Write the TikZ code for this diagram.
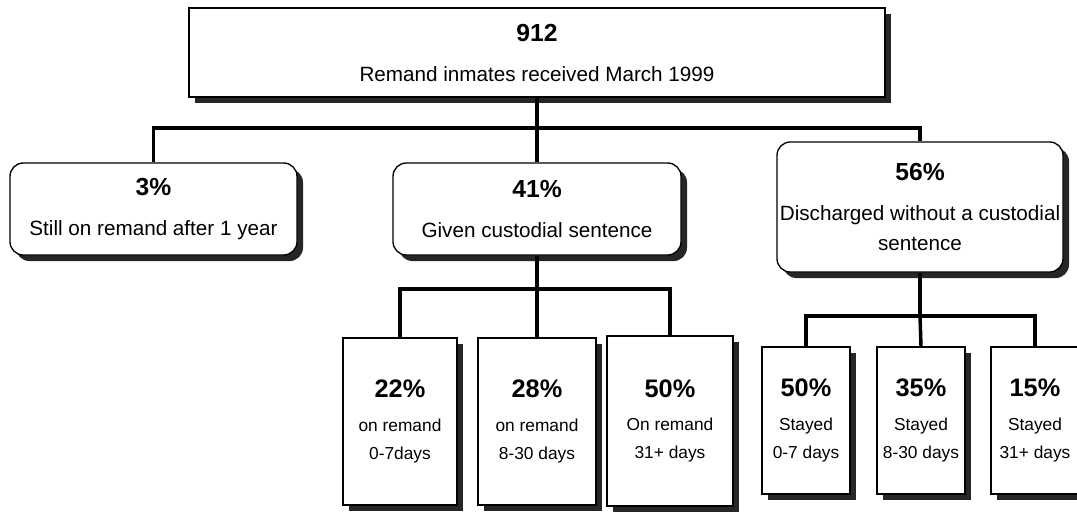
\documentclass[tikz,border=0pt]{standalone}
\usepackage{fontspec}
\setmainfont{Liberation Sans}
\usetikzlibrary{shadows}

\newcommand{\bignum}[1]{{\fontsize{18.5}{20}\selectfont\bfseries #1}}
\newcommand{\hugenum}[1]{{\fontsize{19}{21}\selectfont\bfseries #1}}

\begin{document}
\begin{tikzpicture}[x=0.75pt, y=-0.75pt,
    box/.style={draw=black, line width=1pt, fill=white, inner sep=0pt, align=center,
        font=\fontsize{15.5}{22}\selectfont,
        drop shadow={shadow xshift=4.5pt, shadow yshift=-4.5pt, fill=black!85, opacity=1}},
    roundbox/.style={box, rounded corners=10pt},
    leafbox/.style={box, font=\fontsize{13}{21}\selectfont},
    link/.style={line width=2.6pt}]
    \useasboundingbox (0,0) rectangle (1077,512);
    % Total intake
    \node[box, minimum width=522pt, minimum height=66.75pt] (total) at (537,52.5)
        {\bignum{912}\\[8pt]Remand inmates received March 1999};
    % Outcomes
    \node[roundbox, minimum width=215.25pt, minimum height=69pt] (still) at (153.5,209)
        {\bignum{3\%}\\[8pt]Still on remand after 1 year};
    \node[roundbox, minimum width=216pt, minimum height=69pt] (given) at (537,209)
        {\bignum{41\%}\\[8pt]Given custodial sentence};
    \node[roundbox, minimum width=214.5pt, minimum height=97.5pt] (disch) at (920,207)
        {\bignum{56\%}\\[8pt]Discharged without a custodial\\sentence};
    % Time on remand
    \node[leafbox, minimum width=85.5pt, minimum height=125.25pt] (rem1) at (400,421.5)
        {\hugenum{22\%}\\[4pt]on remand\\0-7days};
    \node[leafbox, minimum width=88.5pt, minimum height=125.25pt] (rem2) at (537,421.5)
        {\hugenum{28\%}\\[4pt]on remand\\8-30 days};
    \node[leafbox, minimum width=94.5pt, minimum height=127.5pt] (rem3) at (670,421)
        {\hugenum{50\%}\\[4pt]On remand\\31+ days};
    % Time stayed
    \node[leafbox, minimum width=66pt, minimum height=110.25pt] (stay1) at (806,420.5)
        {\hugenum{50\%}\\[4pt]Stayed\\0-7 days};
    \node[leafbox, minimum width=66pt, minimum height=110.25pt] (stay2) at (921,420.5)
        {\hugenum{35\%}\\[4pt]Stayed\\8-30 days};
    \node[leafbox, minimum width=66pt, minimum height=110.25pt] (stay3) at (1035,420.5)
        {\hugenum{15\%}\\[4pt]Stayed\\31+ days};
    % Connectors
    \coordinate (busA) at (537,128);
    \coordinate (busB) at (537,289);
    \coordinate (busC) at (920,316);
    \draw[link] (total) -- (busA);
    \draw[link] (still.north) |- (busA) -| (disch.north);
    \draw[link] (busA) -- (given.north);
    \draw[link] (given) -- (busB);
    \draw[link] (rem1.north) |- (busB) -| (rem3.north);
    \draw[link] (busB) -- (rem2.north);
    \draw[link] (disch) -- (busC);
    \draw[link] (stay1.north) |- (busC) -| (stay3.north);
    \draw[link] (busC) -- (stay2.north);
\end{tikzpicture}
\end{document}
